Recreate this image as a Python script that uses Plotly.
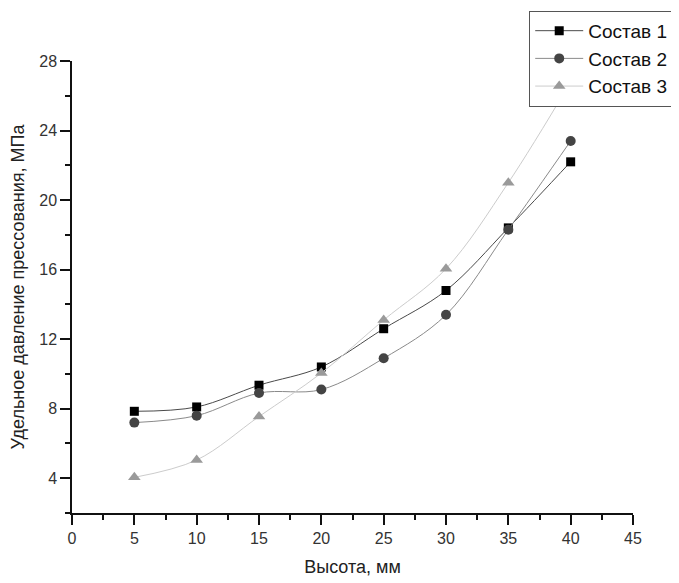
import plotly.graph_objects as go

heights = [5, 10, 15, 20, 25, 30, 35, 40]
sostav1 = [7.85, 8.1, 9.35, 10.4, 12.6, 14.8, 18.4, 22.2]
sostav2 = [7.2, 7.6, 8.9, 9.1, 10.9, 13.4, 18.3, 23.4]
sostav3 = [4.05, 5.05, 7.55, 10.05, 13.1, 16.05, 21.0, 26.8]
names = ["Состав 1", "Состав 2", "Состав 3"]

FONT = "Liberation Sans, Arial, sans-serif"

fig = go.Figure()
fig.add_trace(go.Scatter(x=heights, y=sostav1, name=names[0], mode="lines+markers",
                         line=dict(color="#4a4a4a", width=1, shape="spline"),
                         marker=dict(symbol="square", size=9, color="#000000")))
fig.add_trace(go.Scatter(x=heights, y=sostav2, name=names[1], mode="lines+markers",
                         line=dict(color="#8a8a8a", width=1, shape="spline"),
                         marker=dict(symbol="circle", size=10, color="#444444")))
fig.add_trace(go.Scatter(x=heights, y=sostav3, name=names[2], mode="lines+markers",
                         line=dict(color="#cccccc", width=1, shape="spline"),
                         marker=dict(symbol="triangle-up", size=11, color="#9a9a9a")))

fig.update_layout(
    width=679, height=583,
    margin=dict(l=64, r=54, t=53, b=78, autoexpand=False),
    paper_bgcolor="white", plot_bgcolor="white",
    font=dict(family=FONT, size=15, color="#222222"),
    showlegend=True,
    legend=dict(x=0.815, y=1.111, xanchor="left", yanchor="top",
                bgcolor="white", bordercolor="#555555", borderwidth=1,
                font=dict(family=FONT, size=19, color="#111111"),
                tracegroupgap=0, itemwidth=48),
    xaxis=dict(range=[0, 45], tick0=0, dtick=5, ticks="outside", ticklen=10,
               tickcolor="#111111", tickwidth=1.5, automargin=False,
               showline=True, linecolor="#111111", linewidth=1.5,
               showgrid=False, zeroline=False,
               minor=dict(dtick=2.5, ticks="outside", ticklen=5, tickcolor="#111111", tickwidth=1.5),
               title=dict(text="Высота, мм", font=dict(family=FONT, size=18), standoff=14),
               tickfont=dict(family=FONT, size=16, color="#333333")),
    yaxis=dict(range=[2, 28], tick0=0, dtick=4, ticks="outside", ticklen=10,
               tickcolor="#111111", tickwidth=1.5, automargin=False,
               showline=True, linecolor="#111111", linewidth=1.5,
               showgrid=False, zeroline=False,
               minor=dict(dtick=2, ticks="outside", ticklen=5, tickcolor="#111111", tickwidth=1.5),
               title=dict(text="Удельное давление прессования, МПа", font=dict(family=FONT, size=18), standoff=12),
               tickfont=dict(family=FONT, size=16, color="#333333")),
)

fig.write_html("out.html")
